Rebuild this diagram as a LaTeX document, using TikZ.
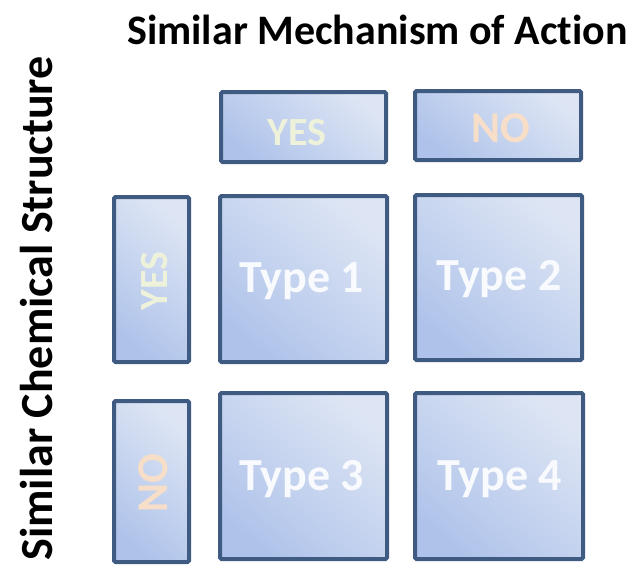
\documentclass[tikz,border=0pt]{standalone}
\usepackage{fontspec}
\setmainfont{Carlito}[Ligatures=CommonOff]
\definecolor{edgeblue}{HTML}{3F5B82}
\definecolor{filldark}{HTML}{AFC3EA}
\definecolor{filllight}{HTML}{DDE5F4}
\definecolor{yescol}{HTML}{EEF2DA}
\definecolor{nocol}{HTML}{F6DEC8}
\definecolor{typecol}{HTML}{F8FAFD}
\begin{document}
\begin{tikzpicture}[x=1pt,y=-1pt,
  cell/.style={draw=edgeblue,line width=4pt,rounded corners=1.5pt,
    bottom color=filldark,top color=filllight,shading angle=-40},
  yeslab/.style={font=\bfseries\fontsize{40}{40}\selectfont,text=yescol,anchor=base},
  nolab/.style={font=\bfseries\fontsize{44}{44}\selectfont,text=nocol,anchor=base},
  typelab/.style={font=\bfseries\fontsize{46}{46}\selectfont,text=typecol,anchor=base},
  headlab/.style={font=\bfseries\fontsize{42}{42}\selectfont,anchor=base}]
\useasboundingbox (0,0) rectangle (635,566);
% boxes
\path[cell] (221,92) rectangle (386,162);
\path[cell] (415,91) rectangle (581,160);
\path[cell] (114,197) rectangle (189,362);
\path[cell] (220,196) rectangle (387,362);
\path[cell] (415,195) rectangle (582,360);
\path[cell] (114,401) rectangle (189,562);
\path[cell] (220,393) rectangle (387,559);
\path[cell] (415,393) rectangle (583,559);
% labels
\node[yeslab] (myes) at (297,145) {YES};
\node[nolab] (mno) at (501,142) {NO};
\node[yeslab,rotate=90] (syes) at (167,281) {YES};
\node[nolab,rotate=90] (sno) at (167,483) {NO};
\node[typelab] (t1) at (301.5,292) {Type 1};
\node[typelab] (t2) at (499,290) {Type 2};
\node[typelab] (t3) at (301.5,490) {Type 3};
\node[typelab] (t4) at (499.5,490) {Type 4};
\node[headlab] (title) at (377.5,44) {Similar Mechanism of Action};
\node[headlab,font=\bfseries\fontsize{46}{46}\selectfont,rotate=90] (side) at (52,308.5) {Similar Chemical Structure};
\end{tikzpicture}
\end{document}
